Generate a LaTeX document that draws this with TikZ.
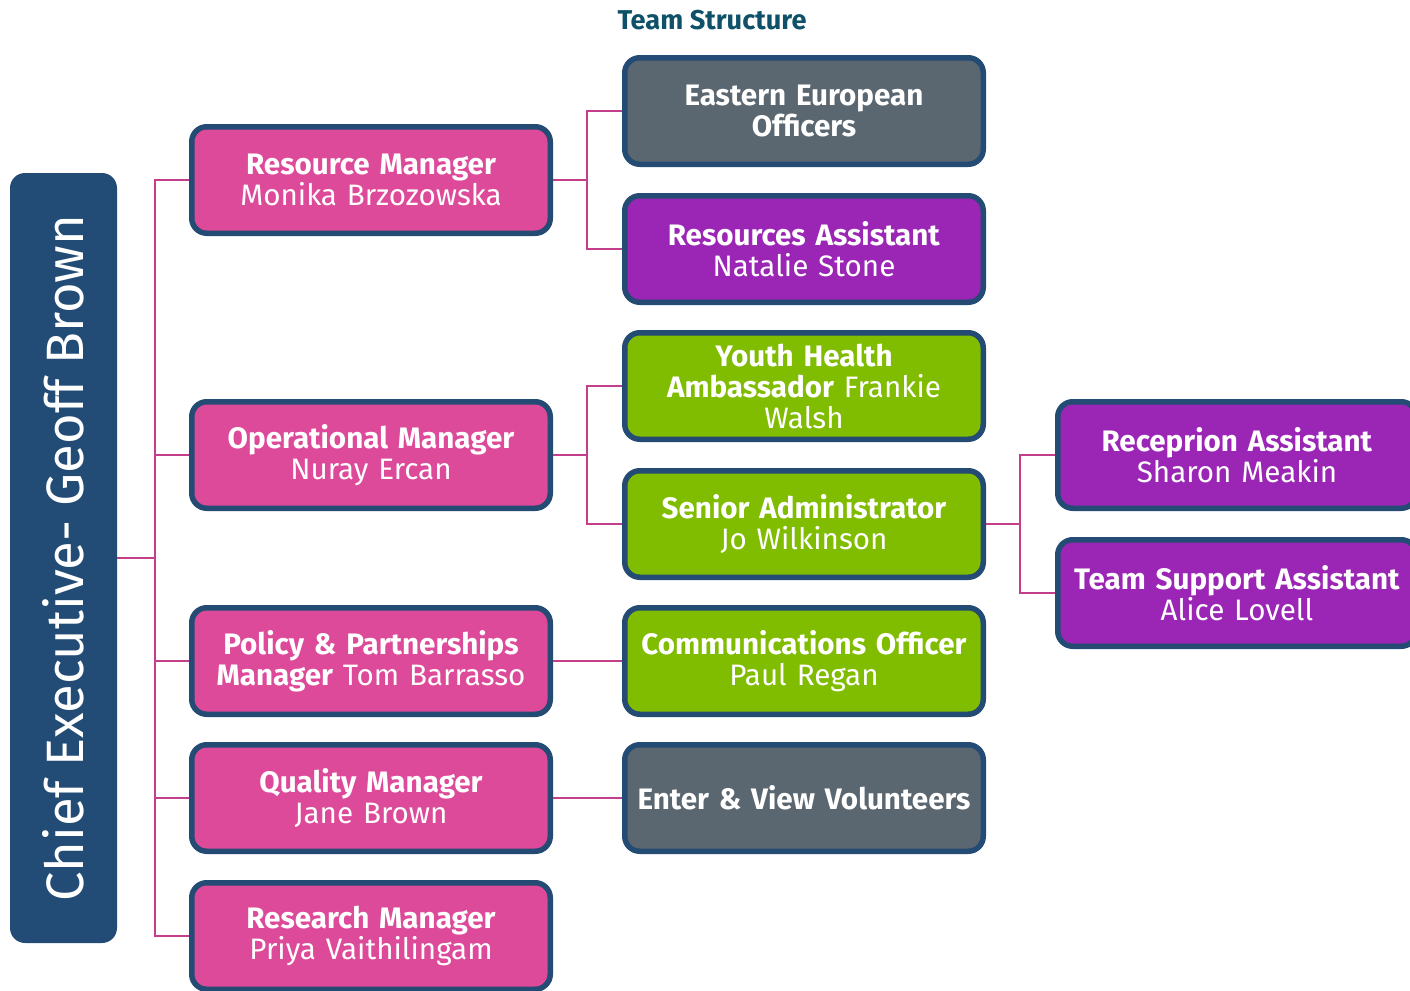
\documentclass[tikz,border=0pt]{standalone}
\usepackage{fontspec}
\setmainfont{Fira Sans}
\usepackage{tikz}
\definecolor{frame}{HTML}{234B73}
\definecolor{ceoblue}{HTML}{224C75}
\definecolor{mgr}{HTML}{DD4A9A}
\definecolor{grp}{HTML}{5B6770}
\definecolor{asst}{HTML}{9B26B6}
\definecolor{staff}{HTML}{80BC00}
\definecolor{linkpink}{HTML}{C43E8C}
\definecolor{heading}{HTML}{0E5168}

\begin{document}
\begin{tikzpicture}[x=0.5pt, y=-0.5pt,
  post/.style={draw=frame, line width=2.75pt, rounded corners=7.5pt,
    minimum width=179.25pt, minimum height=53.25pt, inner sep=0pt,
    text width=176pt, align=center, text=white,
    font=\fontsize{14.8}{15.5}\selectfont},
  link/.style={draw=linkpink, line width=1pt}]
\useasboundingbox (0,0) rectangle (1410,991);

\node[font=\fontsize{13.6}{15}\selectfont\bfseries, text=heading] (title) at (712,20) {Team Structure};

% chief executive bar
\node[fill=ceoblue, rounded corners=7.5pt, minimum width=53.5pt, minimum height=385pt] (ceo) at (63.5,558) {};
\node[rotate=90, text=white, font=\fontsize{26.3}{30}\selectfont] (ceoname) at (ceo.center) {Chief Executive- Geoff Brown};

% posts: name/x/y/colour/text
\foreach \n/\x/\y/\c/\t in {
rm/371/180/mgr/{\textbf{Resource Manager}\\Monika Brzozowska},
om/371/455/mgr/{\textbf{Operational Manager}\\Nuray Ercan},
pp/371/661/mgr/{\textbf{Policy \& Partnerships}\\\textbf{Manager} Tom Barrasso},
qm/371/798/mgr/{\textbf{Quality Manager}\\Jane Brown},
res/371/936/mgr/{\textbf{Research Manager}\\Priya Vaithilingam},
eeo/804/111/grp/{\textbf{Eastern European}\\\textbf{Officers}},
ra/804/249/asst/{\textbf{Resources Assistant}\\Natalie Stone},
yha/804/386/staff/{\textbf{Youth Health}\\\textbf{Ambassador} Frankie\\Walsh},
sa/804/524/staff/{\textbf{Senior Administrator}\\Jo Wilkinson},
co/804/661/staff/{\textbf{Communications Officer}\\Paul Regan},
ev/804/798/grp/{\textbf{Enter \& View Volunteers}},
rec/1237/455/asst/{\textbf{Receprion Assistant}\\Sharon Meakin},
tsa/1237/593/asst/{\textbf{Team Support Assistant}\\Alice Lovell}
}{
\node[post, fill=\c] (\n) at (\x,\y) {\t};
}

% reporting lines
\draw[link] (ceo.east) -- ++(38,0) coordinate (hub);
\foreach \n in {rm,om,pp,qm,res}
  \draw[link] (hub) |- (\n.west);
\draw[link] (rm.east) -- ++(34,0) coordinate (rmj);
\draw[link] (rmj) |- (eeo.west);
\draw[link] (rmj) |- (ra.west);
\draw[link] (om.east) -- ++(34,0) coordinate (omj);
\draw[link] (omj) |- (yha.west);
\draw[link] (omj) |- (sa.west);
\draw[link] (pp.east) -- (co.west);
\draw[link] (qm.east) -- (ev.west);
\draw[link] (sa.east) -- ++(34,0) coordinate (saj);
\draw[link] (saj) |- (rec.west);
\draw[link] (saj) |- (tsa.west);
\end{tikzpicture}
\end{document}
